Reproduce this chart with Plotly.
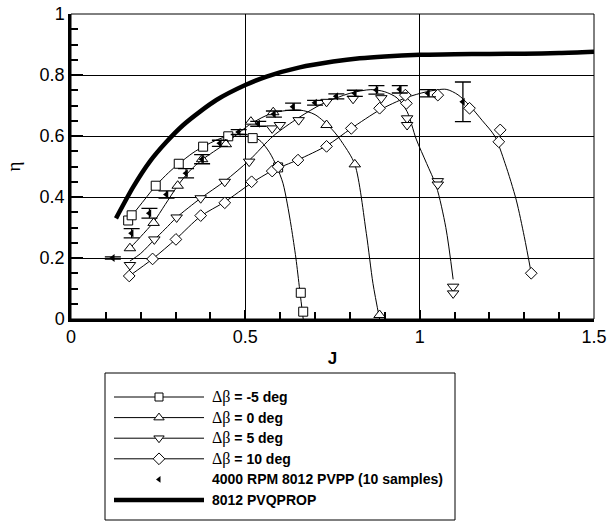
import plotly.graph_objects as go

# ---------------- data ----------------
# delta beta = -5 deg (squares)
sq_J = [0.164, 0.174, 0.243, 0.309, 0.379, 0.451, 0.521, 0.594, 0.659, 0.666]
sq_eta = [0.323, 0.340, 0.437, 0.509, 0.565, 0.599, 0.593, 0.497, 0.086, 0.024]
sq_fit_J = [0.174, 0.21, 0.243, 0.28, 0.309, 0.35, 0.379, 0.42, 0.451, 0.49, 0.52,
            0.545, 0.57, 0.59, 0.608, 0.62, 0.632, 0.645, 0.656, 0.666]
sq_fit_eta = [0.338, 0.39, 0.437, 0.48, 0.509, 0.545, 0.565, 0.588, 0.600, 0.606, 0.600,
              0.582, 0.545, 0.50, 0.445, 0.38, 0.30, 0.20, 0.095, 0.0]

# delta beta = 0 deg (triangles up)
up_J = [0.169, 0.237, 0.306, 0.376, 0.444, 0.516, 0.580, 0.733, 0.814, 0.885]
up_eta = [0.232, 0.315, 0.437, 0.524, 0.573, 0.647, 0.678, 0.636, 0.507, 0.013]
up_fit_J = [0.169, 0.2, 0.237, 0.27, 0.306, 0.34, 0.376, 0.444, 0.516, 0.58, 0.656,
            0.70, 0.75, 0.78, 0.814, 0.847, 0.866, 0.885]
up_fit_eta = [0.232, 0.27, 0.318, 0.375, 0.437, 0.485, 0.522, 0.576, 0.640, 0.676, 0.685,
              0.67, 0.62, 0.575, 0.507, 0.281, 0.117, 0.0]

# delta beta = 5 deg (triangles down)
dn_J = [0.169, 0.239, 0.303, 0.372, 0.441, 0.511, 0.577, 0.599, 0.653, 0.733, 0.809,
        0.890, 0.964, 0.964, 1.052, 1.052, 1.096, 1.096]
dn_eta = [0.177, 0.261, 0.333, 0.396, 0.450, 0.516, 0.625, 0.636, 0.652, 0.712, 0.722,
          0.724, 0.658, 0.636, 0.452, 0.441, 0.106, 0.084]
dn_fit_J = [0.169, 0.2, 0.239, 0.27, 0.303, 0.372, 0.441, 0.511, 0.58, 0.653, 0.72, 0.8,
            0.86, 0.9, 0.935, 0.964, 0.99, 1.02, 1.048, 1.075, 1.096]
dn_fit_eta = [0.19, 0.215, 0.26, 0.295, 0.333, 0.396, 0.452, 0.52, 0.6, 0.66, 0.705, 0.74,
              0.752, 0.745, 0.725, 0.68, 0.59, 0.51, 0.434, 0.30, 0.13]

# delta beta = 10 deg (diamonds)
dm_J = [0.167, 0.234, 0.301, 0.372, 0.441, 0.518, 0.577, 0.594, 0.651, 0.733, 0.804,
        0.885, 0.962, 0.959, 1.052, 1.143, 1.231, 1.227, 1.320]
dm_eta = [0.141, 0.197, 0.261, 0.339, 0.381, 0.450, 0.485, 0.499, 0.521, 0.566, 0.625,
          0.691, 0.707, 0.734, 0.734, 0.691, 0.620, 0.581, 0.150]
dm_fit_J = [0.167, 0.234, 0.301, 0.372, 0.441, 0.518, 0.577, 0.651, 0.733, 0.804, 0.885,
            0.96, 1.02, 1.076, 1.11, 1.143, 1.18, 1.215, 1.245, 1.277, 1.30, 1.32]
dm_fit_eta = [0.141, 0.197, 0.262, 0.337, 0.384, 0.446, 0.486, 0.522, 0.568, 0.625, 0.685,
              0.725, 0.745, 0.753, 0.735, 0.70, 0.65, 0.60, 0.51, 0.39, 0.27, 0.15]

# 4000 RPM 8012 PVPP (10 samples), with error bars
pp_J = [0.12, 0.174, 0.225, 0.274, 0.330, 0.376, 0.427, 0.481, 0.537, 0.582, 0.637,
        0.700, 0.761, 0.814, 0.876, 0.943, 1.024, 1.124]
pp_eta = [0.200, 0.281, 0.347, 0.408, 0.478, 0.524, 0.576, 0.613, 0.640, 0.672, 0.696,
          0.709, 0.730, 0.740, 0.751, 0.753, 0.740, 0.712]
pp_err = [0.004, 0.015, 0.016, 0.012, 0.015, 0.015, 0.010, 0.008, 0.008, 0.010, 0.012,
          0.008, 0.008, 0.010, 0.014, 0.012, 0.012, 0.065]

# 8012 PVQPROP (thick line)
pv_J = [0.129, 0.179, 0.226, 0.274, 0.322, 0.370, 0.417, 0.5, 0.561, 0.656, 0.752, 0.828,
        0.9, 1.0, 1.1, 1.2, 1.3, 1.4, 1.5]
pv_eta = [0.330, 0.434, 0.516, 0.581, 0.636, 0.680, 0.718, 0.767, 0.795, 0.825, 0.844, 0.855,
          0.861, 0.866, 0.868, 0.869, 0.870, 0.872, 0.876]

x_ticks = [0, 0.5, 1, 1.5]
x_ticktext = ["0", "0.5", "1", "1.5"]
y_ticks = [0, 0.2, 0.4, 0.6, 0.8, 1]
y_ticktext = ["0", "0.2", "0.4", "0.6", "0.8", "1"]

DB = "<span style='font-family:Liberation Serif;font-size:16px'>Δβ</span>"
legend_labels = [
    DB + "<b> = -5 deg</b>",
    DB + "<b> = 0 deg</b>",
    DB + "<b> = 5 deg</b>",
    DB + "<b> = 10 deg</b>",
    "<b>4000 RPM 8012 PVPP (10 samples)</b>",
    "<b>8012 PVQPROP</b>",
]

# ---------------- figure ----------------
W, H = 608, 525
FONT = "Liberation Sans, Arial, sans-serif"
fig = go.Figure()

open_marker = dict(color="white", line=dict(color="black", width=1))

fig.add_trace(go.Scatter(x=pv_J, y=pv_eta, mode="lines",
                         line=dict(color="black", width=4.5, shape="spline", smoothing=0.8),
                         showlegend=False))

series = [
    (sq_fit_J, sq_fit_eta, sq_J, sq_eta, "square", 9),
    (up_fit_J, up_fit_eta, up_J, up_eta, "triangle-up", 10),
    (dn_fit_J, dn_fit_eta, dn_J, dn_eta, "triangle-down", 10),
    (dm_fit_J, dm_fit_eta, dm_J, dm_eta, "diamond", 9),
]
for fj, fe, j, e, sym, size in series:
    fig.add_trace(go.Scatter(x=fj, y=fe, mode="lines",
                             line=dict(color="black", width=1, shape="spline", smoothing=0.8),
                             showlegend=False))
for fj, fe, j, e, sym, size in series:
    fig.add_trace(go.Scatter(x=j, y=e, mode="markers",
                             marker=dict(symbol=sym, size=size, **open_marker), showlegend=False))

fig.add_trace(go.Scatter(x=pp_J, y=pp_eta, mode="markers",
                         marker=dict(symbol="triangle-left", size=7, color="black"),
                         error_y=dict(type="data", array=pp_err, visible=True, color="black",
                                      thickness=1.3, width=8),
                         showlegend=False))

# ---------------- custom legend (pixel overlay axes) ----------------
leg_x0, leg_x1, leg_y0, leg_y1 = 105, 455, 373, 520
row0, row_step = 397, 20.6
line_x0, line_x1, sym_x, text_x = 114, 204, 159, 210
rows = [row0 + i * row_step for i in range(6)]
leg_syms = ["square", "triangle-up", "triangle-down", "diamond"]
leg_sizes = [8, 9, 9, 9]
for i in range(4):
    fig.add_trace(go.Scatter(x=[line_x0, line_x1], y=[rows[i], rows[i]], mode="lines",
                             line=dict(color="black", width=1), xaxis="x2", yaxis="y2",
                             showlegend=False, hoverinfo="skip"))
    fig.add_trace(go.Scatter(x=[sym_x], y=[rows[i]], mode="markers",
                             marker=dict(symbol=leg_syms[i], size=leg_sizes[i], **open_marker),
                             xaxis="x2", yaxis="y2", showlegend=False, hoverinfo="skip"))
fig.add_trace(go.Scatter(x=[sym_x], y=[rows[4]], mode="markers",
                         marker=dict(symbol="triangle-left", size=6, color="black"),
                         xaxis="x2", yaxis="y2", showlegend=False, hoverinfo="skip"))
fig.add_trace(go.Scatter(x=[line_x0, line_x1], y=[rows[5], rows[5]], mode="lines",
                         line=dict(color="black", width=4.5), xaxis="x2", yaxis="y2",
                         showlegend=False, hoverinfo="skip"))

annotations = []
for i, lab in enumerate(legend_labels):
    annotations.append(dict(x=text_x, y=rows[i], xref="x2", yref="y2", text=lab,
                            showarrow=False, xanchor="left", yanchor="middle",
                            font=dict(family=FONT, size=14, color="black")))

shapes = [
    dict(type="rect", xref="x2", yref="y2", x0=leg_x0, x1=leg_x1, y0=leg_y0, y1=leg_y1,
         line=dict(color="black", width=1), layer="below"),
    dict(type="rect", xref="x domain", yref="y domain", x0=0, x1=1, y0=0, y1=1,
         line=dict(color="black", width=1)),
]

px0, px1, py0, py1 = 71, 594, 14, 319
fig.update_layout(
    width=W, height=H,
    margin=dict(l=0, r=0, t=0, b=0, pad=0),
    paper_bgcolor="white", plot_bgcolor="rgba(0,0,0,0)",
    font=dict(family=FONT, color="black"),
    showlegend=False,
    xaxis=dict(domain=[px0 / W, px1 / W], range=[0, 1.5], tickvals=x_ticks, ticktext=x_ticktext,
               ticks="inside", ticklen=9, tickwidth=2, tickcolor="black",
               showgrid=True, gridcolor="black", gridwidth=1, zeroline=False,
               showline=True, linecolor="black", linewidth=2.5,
               minor=dict(dtick=0.1, tick0=0, ticks="inside", ticklen=7, tickwidth=1.5,
                          tickcolor="black", showgrid=False),
               tickfont=dict(family=FONT, size=18, color="black"),
               title=dict(text="<b>J</b>", font=dict(family=FONT, size=17, color="black"), standoff=6),
               anchor="y", automargin=False, fixedrange=True),
    yaxis=dict(domain=[1 - py1 / H, 1 - py0 / H], range=[0, 1], tickvals=y_ticks, ticktext=y_ticktext,
               ticks="inside", ticklen=12, tickwidth=2, tickcolor="black",
               showgrid=True, gridcolor="black", gridwidth=1, zeroline=False,
               showline=True, linecolor="black", linewidth=2.5,
               minor=dict(dtick=0.05, tick0=0, ticks="inside", ticklen=7, tickwidth=1.5,
                          tickcolor="black", showgrid=False),
               tickfont=dict(family=FONT, size=18, color="black"),
               title=dict(text="η", font=dict(family="Liberation Serif, serif", size=19, color="black"),
                          standoff=14),
               anchor="x", automargin=False, fixedrange=True),
    xaxis2=dict(domain=[0, 1], range=[0, W], visible=False, anchor="y2", fixedrange=True),
    yaxis2=dict(domain=[0, 1], range=[H, 0], visible=False, anchor="x2", fixedrange=True),
    annotations=annotations,
    shapes=shapes,
)

fig.write_html("out.html")
